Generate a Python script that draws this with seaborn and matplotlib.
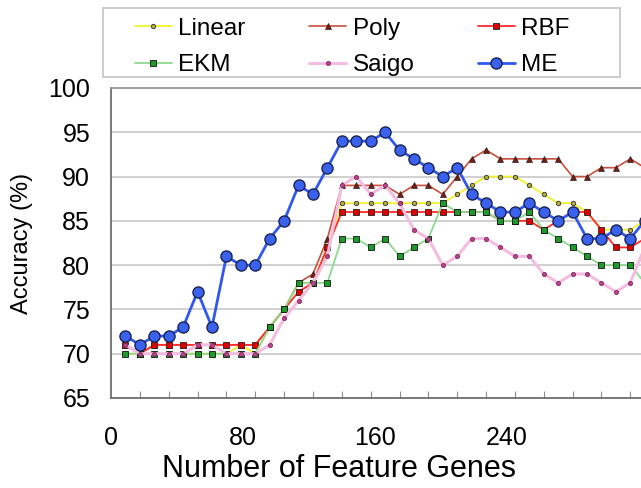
import numpy as np
import pandas as pd
import matplotlib
matplotlib.use('Agg')
import matplotlib.pyplot as plt
import seaborn as sns
from matplotlib.patches import Rectangle

# Data (accuracy % per number of feature genes)
genes = [10, 20, 30, 40, 50, 60, 70, 80, 90, 100, 110, 120, 130, 140, 150, 160, 170, 180, 190,
         200, 210, 220, 230, 240, 250, 260, 270, 280, 290, 300, 310, 320, 330, 340, 350, 360, 370]

linear = [70, 70, 70, 70, 70, 70, 70, 70, 71, 70, 73, 75, 78, 78, 82, 87, 87, 87, 87,
          87, 87, 87, 87, 88, 89, 90, 90, 90, 89, 88, 87, 87, 86, 84, 84, 84, 85]
poly = [71, 70, 71, 71, 71, 71, 71, 71, 71, 71, 73, 75, 78, 79, 83, 89, 89, 89, 89,
        88, 89, 89, 88, 90, 92, 93, 92, 92, 92, 92, 92, 90, 90, 91, 91, 92, 91]
rbf = [71, 70, 71, 71, 71, 71, 71, 71, 71, 71, 73, 75, 77, 78, 82, 86, 86, 86, 86,
       86, 86, 86, 86, 86, 86, 86, 85, 85, 85, 84, 85, 86, 86, 84, 82, 82, 83]
ekm = [70, 70, 70, 70, 70, 70, 70, 70, 70, 70, 73, 75, 78, 78, 78, 83, 83, 82, 83,
       81, 82, 83, 87, 86, 86, 86, 85, 85, 86, 84, 83, 82, 81, 80, 80, 80, 78]
saigo = [71, 70, 70, 70, 70, 71, 71, 70, 70, 70, 71, 74, 76, 78, 81, 89, 90, 88, 89,
         87, 84, 83, 80, 81, 83, 83, 82, 81, 81, 79, 78, 79, 79, 78, 77, 78, 82]
me = [72, 71, 72, 72, 73, 77, 73, 81, 80, 80, 83, 85, 89, 88, 91, 94, 94, 94, 95,
      93, 92, 91, 90, 91, 88, 87, 86, 86, 87, 86, 85, 86, 83, 83, 84, 83, 85]

xtick_labels = ['0', '80', '160', '240']
xtick_pos = [0, 91.5, 183, 274.5]   # labels sit a bit right of the true scale, as in the source
yticks = [65, 70, 75, 80, 85, 90, 95, 100]

sns.set_style('white')
plt.rcParams['font.family'] = ['Liberation Sans', 'DejaVu Sans']
plt.rcParams['text.color'] = 'black'
plt.rcParams['axes.labelcolor'] = 'black'

fig = plt.figure(figsize=(6.41, 4.88), dpi=100)
# axes runs past the right edge of the figure, like the cropped original
ax = fig.add_axes([111 / 641, 90 / 488, 577 / 641, 310 / 488])

styles = [
    ('Linear', linear, dict(color='#f2f22a', lw=1.3, marker='o', ms=3.2, mfc='#b5ad3a', mec='#333333', mew=0.6)),
    ('Poly', poly, dict(color='#c8503c', lw=1.2, marker='^', ms=4, mfc='#7a1c14', mec='#222222', mew=0.5)),
    ('RBF', rbf, dict(color='#ff2b2b', lw=1.3, marker='s', ms=3.8, mfc='#e00000', mec='#222222', mew=0.6)),
    ('EKM', ekm, dict(color='#8fd88f', lw=1.3, marker='s', ms=3.8, mfc='#1f9a2a', mec='#111111', mew=0.6)),
    ('Saigo', saigo, dict(color='#f2bde0', lw=2.2, marker='o', ms=3.0, mfc='#c0408e', mec='#6a1f4a', mew=0.5)),
    ('ME', me, dict(color='#3158ee', lw=2.0, marker='o', ms=8, mfc='#3a62ef', mec='#1b2450', mew=1.0)),
]

for name, vals, kw in styles:
    df = pd.DataFrame({'genes': genes, 'acc': vals})
    sns.lineplot(data=df, x='genes', y='acc', ax=ax, label=name, **kw)

ax.set_xlim(0, 400)
ax.set_ylim(65, 100)
ax.set_yticks(yticks)
ax.yaxis.grid(True, color='#c4c4c4', lw=1.1)
ax.xaxis.grid(False)
ax.tick_params(axis='y', length=0, pad=15, labelsize=18, labelcolor='black')

ax.set_xticks(xtick_pos)
ax.set_xticklabels(xtick_labels)
ax.set_xticks(np.arange(20, 400, 20), minor=True)
ax.tick_params(axis='x', which='major', length=0, pad=20, labelsize=18, labelcolor='black')
ax.tick_params(axis='x', which='minor', direction='in', length=5, width=0.8, color='#8a8a8a', bottom=True)

for side in ['left', 'bottom', 'top']:
    ax.spines[side].set_color('#6e6e6e')
    ax.spines[side].set_linewidth(1.3)
ax.spines['top'].set_color('#9a9a9a')
ax.spines['right'].set_visible(False)

ax.set_ylabel('Accuracy (%)', fontsize=17)
ax.yaxis.set_label_coords(-0.135, 0.5)
ax.set_xlabel('Number of Feature Genes', fontsize=22)
ax.xaxis.set_label_coords((339 - 111) / 577, -0.18)

# legend above the plot, filled row by row; frame drawn separately
ax.get_legend().remove()
handles, labels = ax.get_legend_handles_labels()
order = [0, 3, 1, 4, 2, 5]
fig.legend([handles[i] for i in order], [labels[i] for i in order], ncol=3,
           frameon=False, fontsize=17.5,
           loc='upper left', bbox_to_anchor=(120 / 641, 1 - 3 / 488),
           handlelength=1.55, handletextpad=0.25, columnspacing=2.6,
           labelspacing=0.6, borderpad=0.1)
fig.patches.append(Rectangle((103 / 641, 1 - 77 / 488), 517 / 641, 69 / 488,
                             transform=fig.transFigure, fill=False,
                             edgecolor='#c8c8c8', lw=1.3))

plt.savefig('out.png', dpi=100)
plt.close()
